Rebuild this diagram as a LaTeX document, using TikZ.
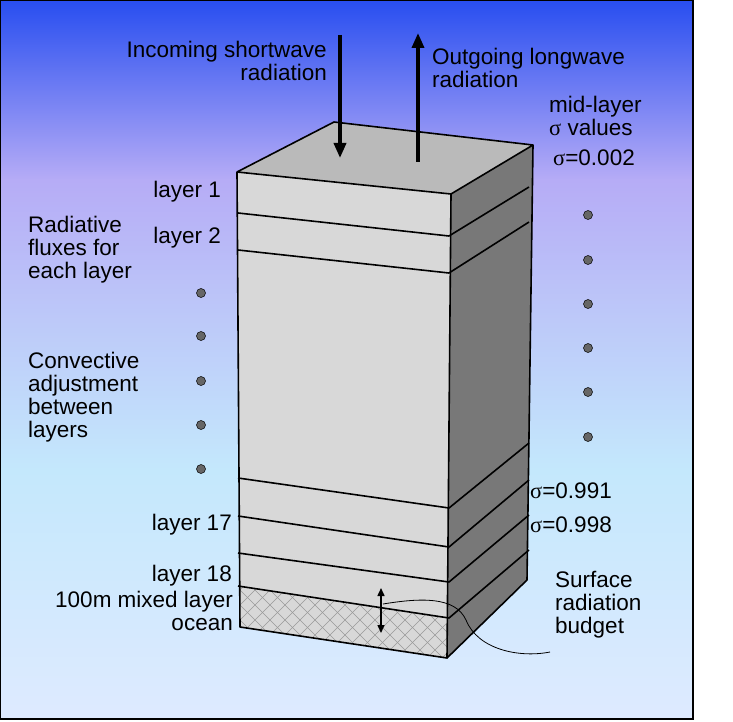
\documentclass[tikz,border=0pt]{standalone}
\usepackage{fontspec}
\setmainfont{Liberation Sans}
\newfontfamily\sig{Liberation Serif}
\usetikzlibrary{arrows.meta}
\definecolor{topblue}{RGB}{40,78,240}
\definecolor{lav}{RGB}{182,172,246}
\definecolor{lcyan}{RGB}{196,232,252}
\definecolor{bcyan}{RGB}{222,234,255}
\definecolor{topface}{RGB}{186,186,186}
\definecolor{frontface}{RGB}{216,216,216}
\definecolor{sideface}{RGB}{120,120,120}
\begin{document}
\begin{tikzpicture}[x=1pt,y=-1pt,
  lab/.style={font=\fontsize{22.5}{23}\selectfont,inner sep=0pt,align=left},
  labr/.style={lab,align=right},
  dot/.style={circle,fill=gray!80!black,draw=black,line width=0.5pt,minimum size=9pt,inner sep=0pt},
  edge/.style={line width=1.6pt,line join=round},
  flux/.style={line width=3.5pt,-{Triangle[length=15pt,width=12pt]}}]
\useasboundingbox (0,0) rectangle (733,722);
\fill[white] (0,0) rectangle (733,722);
\shade[top color=topblue,bottom color=lav] (0,0) rectangle (693,180);
\shade[top color=lav,bottom color=lcyan] (0,180) rectangle (693,470);
\shade[top color=lcyan,bottom color=bcyan] (0,470) rectangle (693,719);
\draw[line width=1.5pt] (0,0) rectangle (693,719);
% box
\coordinate (FTL) at (237,172); \coordinate (FTR) at (451,194);
\coordinate (BTL) at (334,122); \coordinate (BTR) at (533,145);
\coordinate (FBL) at (240,627); \coordinate (FBR) at (447,658);
\coordinate (BBR) at (527,580);
\fill[topface] (FTL)--(BTL)--(BTR)--(FTR)--cycle;
\fill[frontface] (FTL)--(FTR)--(FBR)--(FBL)--cycle;
\fill[sideface] (FTR)--(BTR)--(BBR)--(FBR)--cycle;
% hatched ocean
\begin{scope}
\clip (239,586)--(448,618)--(447,658)--(240,627)--cycle;
\foreach \i in {-20,...,24}{
  \draw[gray!80,line width=0.5pt] (200+\i*15,580)--++(80,80);
  \draw[gray!80,line width=0.5pt] (200+\i*15,660)--++(80,-80);}
\end{scope}
\draw[edge] (FTL)--(BTL)--(BTR)--(FTR)--cycle;
\draw[edge] (FTL)--(FBL)--(FBR)--(FTR);
\draw[edge] (BTR)--(BBR)--(FBR);
\foreach \l/\r/\b in {213/236/187, 250/273/222, 478/508/443, 516/547/480, 553/582/515, 586/618/550}{
  \draw[edge] (238,\l)--(449,\r)--(529,\b);}
% fluxes
\coordinate (inA) at (340,35); \coordinate (inB) at (340,158);
\coordinate (outA) at (418,162); \coordinate (outB) at (418,33);
\draw[flux] (inA)--(inB);
\draw[flux] (outA)--(outB);
\node[labr,anchor=north east] (inc) at (327,41) {Incoming shortwave\\radiation};
\node[lab,anchor=north west] (outg) at (432,48) {Outgoing longwave\\radiation};
% left labels
\node[lab,anchor=base east] (l1) at (221,197) {layer 1};
\node[lab,anchor=base east] (l2) at (221,243) {layer 2};
\node[lab,anchor=north west] (rad) at (28,216) {Radiative\\fluxes for\\each layer};
\node[lab,anchor=north west] (conv) at (28,352) {Convective\\adjustment\\between\\layers};
\foreach \y in {293,336,381,425,469} \node[dot] at (201,\y) {};
\node[lab,anchor=base east] (l17) at (232,530) {layer 17};
\node[lab,anchor=base east] (l18) at (232,581) {layer 18};
\node[labr,anchor=north east] (ocean) at (233,591) {100m mixed layer\\ocean};
% right labels
\node[lab,anchor=north west] (mid) at (549,96) {mid-layer\\{\sig σ} values};
\node[lab,anchor=base west] (s1) at (553,166) {{\sig σ}=0.002};
\foreach \y in {215,260,304,348,392,437} \node[dot] at (588,\y) {};
\node[lab,anchor=base west] (s17) at (530,498) {{\sig σ}=0.991};
\node[lab,anchor=base west] (s18) at (530,532) {{\sig σ}=0.998};
\node[lab,anchor=north west] (surf) at (555,571) {Surface\\radiation\\budget};
% surface arrow
\coordinate (dA) at (381,588); \coordinate (dB) at (381,633);
\draw[line width=1.5pt,{Triangle[length=8pt,width=7pt]}-{Triangle[length=8pt,width=7pt]}] (dA)--(dB);
\coordinate (cs) at (383,604); \coordinate (ce) at (550,652);
\draw[line width=0.8pt] (cs) .. controls (420,598) and (455,596) .. (466,620) .. controls (478,650) and (520,658) .. (ce);
\end{tikzpicture}
\end{document}
